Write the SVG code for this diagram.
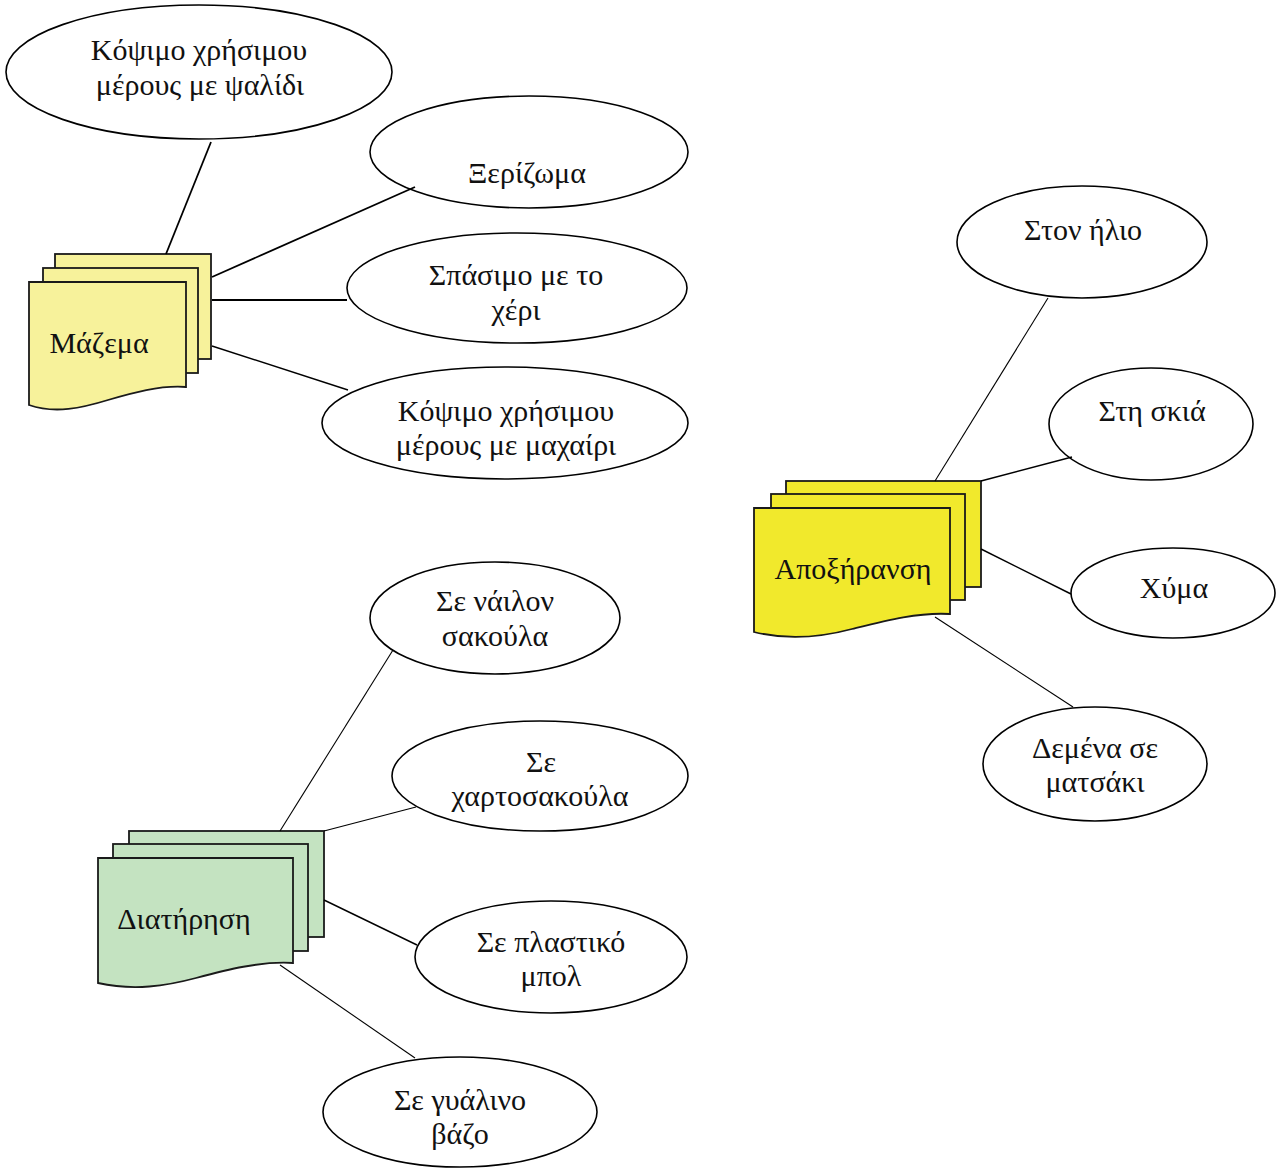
<svg xmlns="http://www.w3.org/2000/svg" width="1279" height="1170" viewBox="0 0 1279 1170">
<style>
.bg{fill:#ffffff}
.ell{fill:#ffffff;stroke:#000000;stroke-width:1.6}
.doc{stroke:#1a1a1a;stroke-width:1.8;stroke-linejoin:miter}
.y1{fill:#f7f29b}
.y2{fill:#f1e92c}
.g1{fill:#c4e3c1}
.t{font-family:"Liberation Serif","DejaVu Serif",serif;font-size:30px;fill:#111111;text-anchor:middle}
.c1{stroke:#000000;stroke-width:1.8;fill:none}
.c2{stroke:#000000;stroke-width:1.1;fill:none}
.c3{stroke:#000000;stroke-width:1.4;fill:none}
</style>
<rect class="bg" x="0" y="0" width="1279" height="1170"/>

<g id="n-kopsimo-psalidi">
<ellipse class="ell" cx="199" cy="72" rx="193" ry="67"/>
<text class="t" x="199" y="60">Κόψιμο χρήσιμου</text>
<text class="t" x="200" y="95">μέρους με ψαλίδι</text>
</g>
<g id="n-xerizoma">
<ellipse class="ell" cx="529" cy="152" rx="159" ry="56"/>
<text class="t" x="527" y="183">Ξερίζωμα</text>
</g>
<g id="n-spasimo">
<ellipse class="ell" cx="517" cy="288" rx="170" ry="55"/>
<text class="t" x="516" y="285">Σπάσιμο με το</text>
<text class="t" x="516" y="320">χέρι</text>
</g>
<g id="n-kopsimo-maxairi">
<ellipse class="ell" cx="505" cy="423" rx="183" ry="56"/>
<text class="t" x="506" y="421">Κόψιμο χρήσιμου</text>
<text class="t" x="506" y="455">μέρους με μαχαίρι</text>
</g>

<g id="n-mazema">
<rect class="doc y1" x="55" y="254" width="156" height="105"/>
<rect class="doc y1" x="43" y="268" width="155" height="105"/>
<path class="doc y1" d="M29,282 H186 V387 C160,385 132,393 108,400 C82,408 55,414 29,405 Z"/>
<text class="t" x="99" y="353">Μάζεμα</text>
</g>

<g id="n-ston-ilio">
<ellipse class="ell" cx="1082" cy="242" rx="125" ry="56"/>
<text class="t" x="1083" y="240">Στον ήλιο</text>
</g>
<g id="n-sti-skia">
<ellipse class="ell" cx="1151" cy="424" rx="102" ry="56"/>
<text class="t" x="1152" y="421">Στη σκιά</text>
</g>
<g id="n-xyma">
<ellipse class="ell" cx="1173" cy="593" rx="102" ry="45"/>
<text class="t" x="1174" y="598">Χύμα</text>
</g>
<g id="n-demena">
<ellipse class="ell" cx="1095" cy="764" rx="112" ry="57"/>
<text class="t" x="1095" y="758">Δεμένα σε</text>
<text class="t" x="1095" y="792">ματσάκι</text>
</g>

<g id="n-apoxiransi">
<rect class="doc y2" x="786" y="481" width="195" height="106"/>
<rect class="doc y2" x="771" y="494" width="194" height="106"/>
<path class="doc y2" d="M754,508 H950 V614 C918,612 884,621 852,629 C822,637 790,641 754,632 Z"/>
<text class="t" x="853" y="579">Αποξήρανση</text>
</g>

<g id="n-nailon">
<ellipse class="ell" cx="495" cy="618" rx="125" ry="56"/>
<text class="t" x="495" y="611">Σε νάιλον</text>
<text class="t" x="495" y="646">σακούλα</text>
</g>
<g id="n-xartosakoula">
<ellipse class="ell" cx="540" cy="776" rx="148" ry="55"/>
<text class="t" x="541" y="772">Σε</text>
<text class="t" x="540" y="806">χαρτοσακούλα</text>
</g>
<g id="n-plastiko">
<ellipse class="ell" cx="551" cy="957" rx="136" ry="56"/>
<text class="t" x="551" y="952">Σε πλαστικό</text>
<text class="t" x="551" y="986">μπολ</text>
</g>
<g id="n-gyalino">
<ellipse class="ell" cx="460" cy="1112" rx="137" ry="55"/>
<text class="t" x="460" y="1110">Σε γυάλινο</text>
<text class="t" x="460" y="1144">βάζο</text>
</g>

<g id="n-diatirisi">
<rect class="doc g1" x="129" y="831" width="195" height="106"/>
<rect class="doc g1" x="113" y="844" width="195" height="107"/>
<path class="doc g1" d="M98,858 H293 V963 C260,961 226,970 196,978 C166,986 134,991 98,983 Z"/>
<text class="t" x="184" y="929">Διατήρηση</text>
</g>

<g id="connectors">
<line class="c1" x1="166" y1="254" x2="211" y2="142"/>
<line class="c1" x1="212" y1="277" x2="415" y2="187"/>
<line class="c1" x1="212" y1="300" x2="347" y2="300"/>
<line class="c3" x1="212" y1="346" x2="348" y2="390"/>
<line class="c2" x1="935" y1="481" x2="1048" y2="298"/>
<line class="c3" x1="981" y1="481" x2="1072" y2="457"/>
<line class="c3" x1="981" y1="549" x2="1071" y2="594"/>
<line class="c2" x1="935" y1="617" x2="1073" y2="707"/>
<line class="c2" x1="280" y1="831" x2="393" y2="650"/>
<line class="c2" x1="324" y1="831" x2="416" y2="807"/>
<line class="c3" x1="324" y1="900" x2="417" y2="945"/>
<line class="c2" x1="280" y1="965" x2="415" y2="1058"/>
</g>
</svg>
